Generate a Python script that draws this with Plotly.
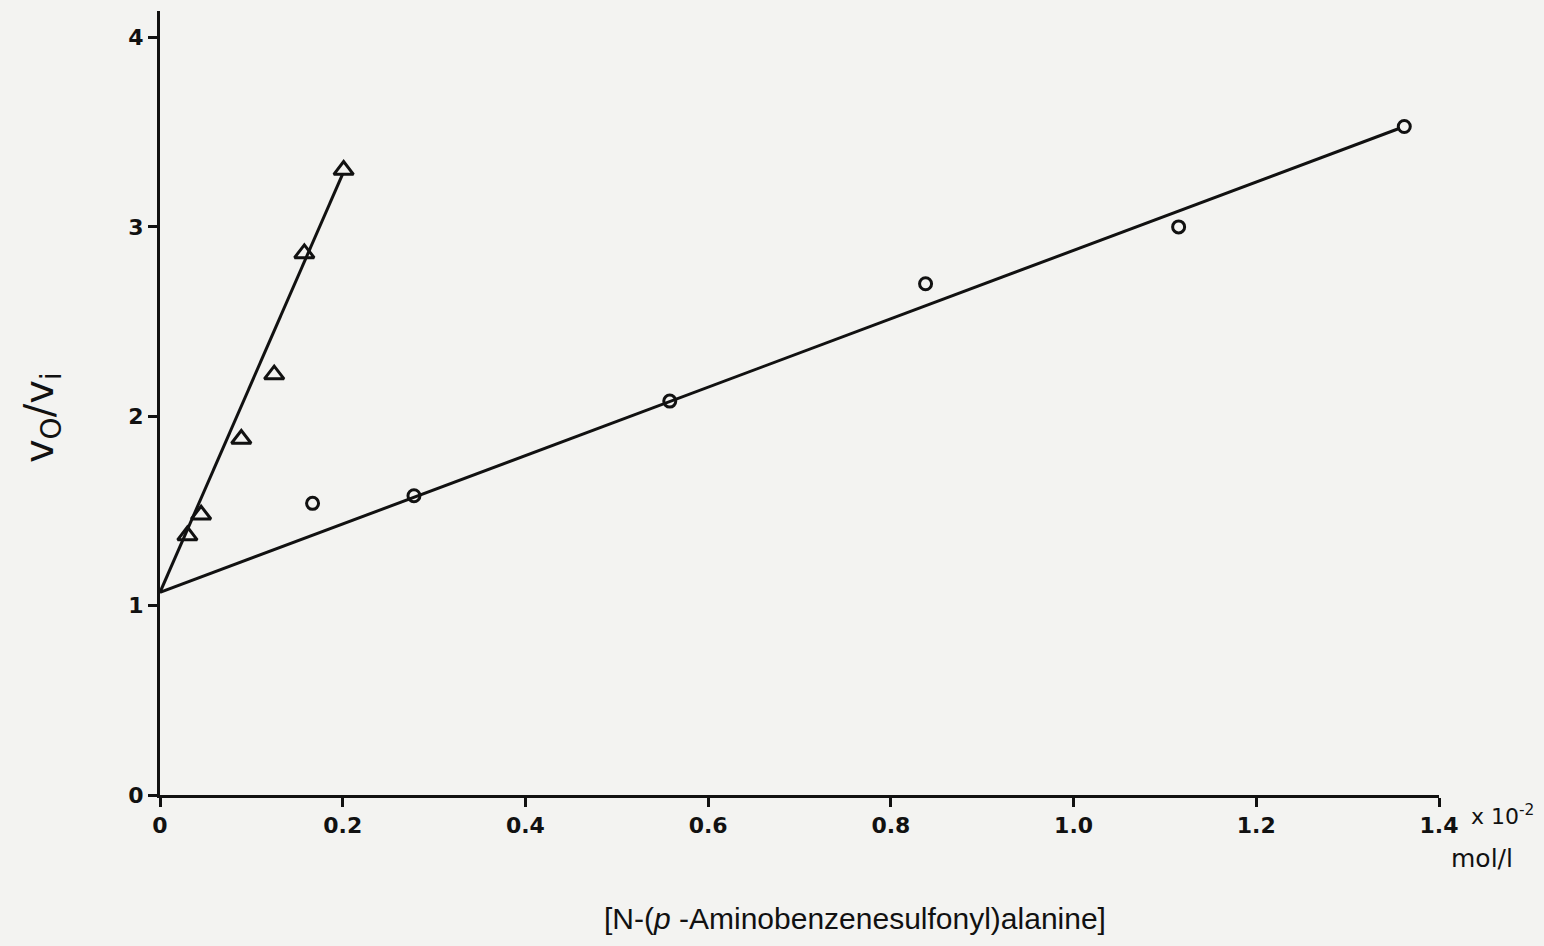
import plotly.graph_objects as go

# Inhibitor concentration (x 10^-2 mol/l) and relative rate v0/vi
tri_x = [0.03, 0.045, 0.089, 0.125, 0.158, 0.201]
tri_y = [1.37, 1.48, 1.88, 2.22, 2.86, 3.30]

circ_x = [0.167, 0.278, 0.558, 0.838, 1.115, 1.362]
circ_y = [1.54, 1.58, 2.08, 2.70, 3.00, 3.53]

# Straight-line fits: common intercept, separate slopes, drawn over each data range
intercept = 1.07
tri_slope = 11.05
circ_slope = 1.806
tri_fit_end = 0.2
circ_fit_end = 1.357

x_ticks = [0, 0.2, 0.4, 0.6, 0.8, 1.0, 1.2, 1.4]
x_tick_text = ["0", "0.2", "0.4", "0.6", "0.8", "1.0", "1.2", "1.4"]
y_ticks = [0, 1, 2, 3, 4]
y_tick_text = ["0", "1", "2", "3", "4"]

ink = "#111111"
paper = "#f3f3f1"
tick_family = "DejaVu Sans, sans-serif"
label_family = "Liberation Sans, Arial, sans-serif"

fig = go.Figure()

fig.add_trace(go.Scatter(
    x=[0, tri_fit_end], y=[intercept, intercept + tri_slope * tri_fit_end],
    mode="lines", line=dict(color=ink, width=3), showlegend=False, hoverinfo="skip"))
fig.add_trace(go.Scatter(
    x=[0, circ_fit_end], y=[intercept, intercept + circ_slope * circ_fit_end],
    mode="lines", line=dict(color=ink, width=3), showlegend=False, hoverinfo="skip"))

fig.add_trace(go.Scatter(
    x=tri_x, y=tri_y, mode="markers", showlegend=False, cliponaxis=False,
    marker=dict(symbol="triangle-up-open", size=17, color=ink, line=dict(width=3, color=ink))))
fig.add_trace(go.Scatter(
    x=circ_x, y=circ_y, mode="markers", showlegend=False, cliponaxis=False,
    marker=dict(symbol="circle-open", size=12, color=ink, line=dict(width=3, color=ink))))

axis_style = dict(
    showgrid=False, zeroline=False,
    showline=True, linecolor=ink, linewidth=3,
    ticks="outside", ticklen=9, tickwidth=2.5, tickcolor=ink,
    tickfont=dict(size=22, family=tick_family, weight="bold", color=ink),
)

fig.update_layout(
    width=1544, height=946,
    margin=dict(l=160, r=105, t=11, b=151),
    paper_bgcolor=paper, plot_bgcolor=paper,
    font=dict(family=label_family, color=ink),
    xaxis=dict(range=[0, 1.4], tickvals=x_ticks, ticktext=x_tick_text, **axis_style),
    yaxis=dict(range=[0, 4.14], tickvals=y_ticks, ticktext=y_tick_text, **axis_style),
)

# Axis texts placed relative to the plotting area
fig.add_annotation(
    x=-0.0923, y=0.482, xref="paper", yref="paper", xanchor="center", yanchor="middle",
    showarrow=False, textangle=-90,
    text="v<sub>O</sub>/v<sub>i</sub>", font=dict(size=40, family=tick_family))
fig.add_annotation(
    x=1.0235, y=-0.0255, xref="paper", yref="paper", xanchor="left", yanchor="middle",
    showarrow=False,
    text="x 10<sup>-2</sup>", font=dict(size=22, family=tick_family))
fig.add_annotation(
    x=1.0336, y=-0.0804, xref="paper", yref="paper", xanchor="center", yanchor="middle",
    showarrow=False,
    text="mol/l", font=dict(size=25, family=tick_family))
fig.add_annotation(
    x=0.5434, y=-0.157, xref="paper", yref="paper", xanchor="center", yanchor="middle",
    showarrow=False,
    text="[N-(<i>p</i> -Aminobenzenesulfonyl)alanine]",
    font=dict(size=30, family=label_family))

fig.write_html("out.html")
